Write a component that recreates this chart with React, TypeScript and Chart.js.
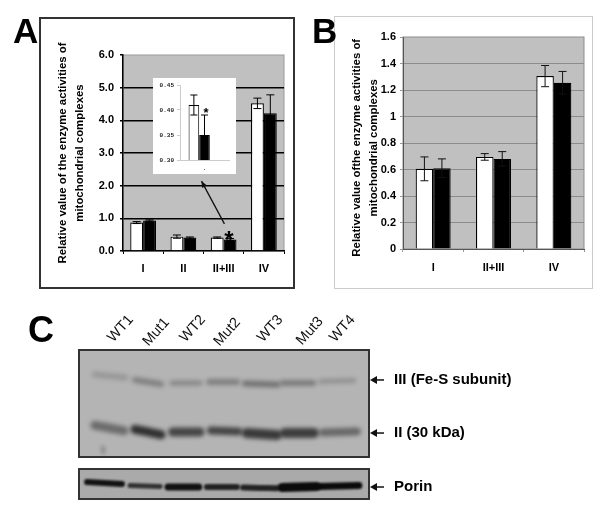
import React, { useEffect, useRef } from "react";
import { Chart, registerables } from "chart.js";

Chart.register(...registerables);
Chart.defaults.font.family = '"Liberation Sans", Arial, sans-serif';

const categoriesA = ["I", "II", "II+III", "IV"];
const wildTypeA = [0.87, 0.44, 0.41, 4.52];
const mutantA = [0.93, 0.41, 0.35, 4.22];
const wildTypeErrA = [0.03, 0.05, 0.02, 0.16];
const mutantErrA = [0.02, 0.02, 0.03, 0.56];
const ticksTitleA = ["Relative value of the enzyme activities of", "mitochondrial complexes"];

const categoriesInset = ["."];
const wildTypeInset = [0.41];
const mutantInset = [0.35];
const wildTypeErrInset = [0.02];
const mutantErrInset = [0.04];

const categoriesB = ["I", "II+III", "IV"];
const wildTypeB = [0.605, 0.695, 1.305];
const mutantB = [0.61, 0.68, 1.255];
const wildTypeErrB = [0.09, 0.025, 0.08];
const mutantErrB = [0.07, 0.055, 0.085];
const ticksTitleB = ["Relative value ofthe enzyme activities of", "mitochondrial complexes"];

const laneNames = ["WT1", "Mut1", "WT2", "Mut2", "WT3", "Mut3", "WT4"];
const laneLabelPos = [10.8, 22.9, 35.7, 47.4, 62.4, 75.9, 87.3];
const laneLabelLift = [10, 6, 10, 6, 10, 7, 10];
const bandLabels = ["III (Fe-S subunit)", "II (30 kDa)"];
const bandLabelPos = [28, 77.6];
const porinLabel = ["Porin"];
const porinLabelPos = [60];

const bandIIICenter = [10.7, 23.8, 36.9, 49.7, 62.8, 75.5, 89];
const bandIIIHalf = [5.2, 4.5, 4.8, 4.8, 5.5, 5.2, 5.7];
const bandIIIMigration = [24.3, 29.9, 30.8, 29.9, 31.8, 30.8, 29];
const bandIIITilt = [3, 4, 0, 0, 1, 0, -1];
const bandIIIAlpha = [0.17, 0.3, 0.27, 0.31, 0.39, 0.33, 0.2];
const bandIIIThick = [6, 6, 5, 6, 6, 6, 5];

const bandIICenter = [10.5, 23.8, 37, 50.2, 63, 76, 90];
const bandIIHalf = [5, 4.5, 4.7, 4.7, 5.2, 5, 5.8];
const bandIIMigration = [72.9, 76.6, 76.6, 75.7, 78.5, 77.6, 76.6];
const bandIITilt = [5, 5, 0, 1, 2, 0, -1];
const bandIIAlpha = [0.42, 0.78, 0.66, 0.66, 0.72, 0.7, 0.45];
const bandIIThick = [9, 9, 9, 8, 10, 10, 8];

const speckCenter = [8.3];
const speckHalf = [0.1];
const speckMigration = [93.5];
const speckTilt = [6];
const speckAlpha = [0.7];
const speckThick = [1.5];

const porinCenter = [8.8, 22.8, 36, 49.3, 62.4, 75.9, 89.8];
const porinHalf = [6, 5.2, 5.3, 5.2, 5.8, 5.9, 6.7];
const porinMigration = [46.7, 56.7, 60, 60, 63, 60, 56.7];
const porinTilt = [6, 3, 0, 0, 2, -3, -3];
const porinAlpha = [0.95, 0.75, 0.95, 0.85, 0.85, 1, 1];
const porinThick = [6, 5, 7, 6, 6, 9, 7];

const errorPlugin = (errs: number[][], cap: number, color = "#000") => ({
  id: "errors",
  afterDatasetsDraw(chart: any) {
    const { ctx } = chart;
    const y = chart.scales.y;
    errs.forEach((list, d) => {
      chart.getDatasetMeta(d).data.forEach((bar: any, i: number) => {
        const v = chart.data.datasets[d].data[i] as number;
        const hi = y.getPixelForValue(v + list[i]);
        const lo = y.getPixelForValue(v - list[i]);
        ctx.save();
        ctx.strokeStyle = color;
        ctx.lineWidth = 1;
        ctx.beginPath();
        ctx.moveTo(bar.x, hi); ctx.lineTo(bar.x, lo);
        ctx.moveTo(bar.x - cap / 2, hi); ctx.lineTo(bar.x + cap / 2, hi);
        ctx.moveTo(bar.x - cap / 2, lo); ctx.lineTo(bar.x + cap / 2, lo);
        ctx.stroke();
        ctx.restore();
      });
    });
  },
});

const framePlugin = (color: string, width: number, fill = "#ffffff", plot?: string, plotBorder?: string) => ({
  id: "frame",
  beforeDraw(chart: any) {
    const { ctx, width: w, height: h, chartArea: a } = chart;
    ctx.save();
    ctx.fillStyle = fill;
    ctx.fillRect(0, 0, w, h);
    if (color !== "none") {
      ctx.strokeStyle = color;
      ctx.lineWidth = width;
      ctx.strokeRect(width / 2 + 1, width / 2 + 1, w - width - 2, h - width - 2);
    }
    if (plot) {
      ctx.fillStyle = plot;
      ctx.fillRect(a.left, a.top, a.right - a.left, a.bottom - a.top);
      if (plotBorder) {
        ctx.strokeStyle = plotBorder;
        ctx.lineWidth = 1;
        ctx.strokeRect(a.left, a.top, a.right - a.left, a.bottom - a.top);
      }
    }
    ctx.restore();
  },
});

const starPlugin = (cat: number, value: number, size: number) => ({
  id: "star",
  afterDatasetsDraw(chart: any) {
    const { ctx, scales } = chart;
    ctx.save();
    ctx.font = `bold ${size}px "Liberation Sans"`;
    ctx.fillStyle = "#000";
    ctx.textAlign = "center";
    ctx.fillText("*", scales.x.getPixelForValue(cat), scales.y.getPixelForValue(value));
    ctx.restore();
  },
});

const arrowA = {
  id: "arrowA",
  afterDatasetsDraw(chart: any) {
    const { ctx, scales } = chart;
    const x0 = scales.x.getPixelForValue(2.02), y0 = scales.y.getPixelForValue(0.83);
    const x1 = scales.x.getPixelForValue(1.45), y1 = scales.y.getPixelForValue(2.14);
    const t = Math.atan2(y1 - y0, x1 - x0);
    ctx.save();
    ctx.strokeStyle = "#111";
    ctx.fillStyle = "#111";
    ctx.lineWidth = 1.3;
    ctx.beginPath(); ctx.moveTo(x0, y0); ctx.lineTo(x1, y1); ctx.stroke();
    ctx.beginPath();
    ctx.moveTo(x1, y1);
    ctx.lineTo(x1 - 7 * Math.cos(t - 0.4), y1 - 7 * Math.sin(t - 0.4));
    ctx.lineTo(x1 - 7 * Math.cos(t + 0.4), y1 - 7 * Math.sin(t + 0.4));
    ctx.closePath(); ctx.fill();
    ctx.restore();
  },
};

const barDatasets = (white: number[], black: number[], borderWidth: number, cp: number) => [
  { label: "WT", data: white, backgroundColor: "#fff", borderColor: "#000", borderWidth, barPercentage: 1, categoryPercentage: cp },
  { label: "Mut", data: black, backgroundColor: "#000", borderColor: "#000", borderWidth, barPercentage: 1, categoryPercentage: cp },
];

const bandDatasets = (center: number[], half: number[], mig: number[], tilt: number[], alpha: number[], thick: number[]) =>
  center.map((c, i) => ({
    data: [
      { x: c - half[i], y: mig[i] - tilt[i] / 2 },
      { x: c, y: mig[i] },
      { x: c + half[i], y: mig[i] + tilt[i] / 2 },
    ],
    showLine: true,
    tension: 0.4,
    pointRadius: 0,
    borderColor: `rgba(10,10,10,${alpha[i]})`,
    borderWidth: thick[i],
    borderCapStyle: "round",
  }));

const blurPlugin = (px: number) => ({
  id: "blur",
  beforeDatasetDraw(chart: any) { chart.ctx.save(); chart.ctx.filter = `blur(${px}px)`; },
  afterDatasetDraw(chart: any) { chart.ctx.restore(); },
});

const blotFrame = (cfg: any) => ({
  id: "blotFrame",
  beforeDraw(chart: any) {
    const { ctx, chartArea: a } = chart;
    ctx.save();
    ctx.fillStyle = cfg.fill;
    ctx.fillRect(a.left, a.top, a.right - a.left, a.bottom - a.top);
    ctx.restore();
  },
  afterDraw(chart: any) {
    const { ctx, chartArea: a, scales } = chart;
    ctx.save();
    ctx.strokeStyle = "#333";
    ctx.lineWidth = 2;
    ctx.strokeRect(a.left, a.top, a.right - a.left, a.bottom - a.top);
    ctx.fillStyle = "#111";
    ctx.strokeStyle = "#111";
    ctx.lineWidth = 1.5;
    cfg.yPos.forEach((value: number, i: number) => {
      const y = scales.y.getPixelForValue(value);
      ctx.beginPath();
      ctx.moveTo(a.right + 1, y);
      ctx.lineTo(a.right + 8, y - 4);
      ctx.lineTo(a.right + 8, y + 4);
      ctx.closePath();
      ctx.fill();
      ctx.beginPath();
      ctx.moveTo(a.right + 5, y);
      ctx.lineTo(a.right + 15, y);
      ctx.stroke();
      ctx.fillStyle = "#000";
      ctx.font = 'bold 15px "Liberation Sans"';
      ctx.textAlign = "left";
      ctx.textBaseline = "middle";
      ctx.fillText(cfg.yLabels[i], a.right + 25, y);
      ctx.fillStyle = "#111";
    });
    (cfg.xPos || []).forEach((value: number, i: number) => {
      ctx.save();
      ctx.translate(scales.x.getPixelForValue(value), a.top - cfg.xLift[i]);
      ctx.rotate(-(48 * Math.PI) / 180);
      ctx.font = '14.5px "Liberation Sans"';
      ctx.fillStyle = "#111";
      ctx.textAlign = "left";
      ctx.textBaseline = "middle";
      ctx.fillText(cfg.xLabels[i], 0, 0);
      ctx.restore();
    });
    ctx.restore();
  },
});

const fix = (size: number, key: "width" | "height") => (scale: any) => { scale[key] = size; };

const barChart = (canvas: HTMLCanvasElement, cfg: any) =>
  new Chart(canvas, {
    type: "bar",
    data: { labels: cfg.labels, datasets: cfg.datasets },
    plugins: cfg.plugins,
    options: {
      animation: false,
      responsive: false,
      devicePixelRatio: 1,
      layout: { autoPadding: false, padding: cfg.padding },
      plugins: { legend: { display: false }, tooltip: { enabled: false } },
      scales: {
        x: {
          afterFit: fix(cfg.xHeight, "height"),
          grid: { offset: true, drawOnChartArea: false, tickLength: 3, color: cfg.xTick },
          border: { color: cfg.axisColor, width: cfg.axisWidth },
          ticks: { color: cfg.tickColor, padding: cfg.xPad, font: { size: cfg.tickSize, weight: "bold", family: cfg.tickFamily } },
        },
        y: {
          afterFit: fix(cfg.yWidth, "width"),
          min: cfg.min,
          max: cfg.max,
          grid: {
            color: (c: any) => (c.tick && (c.tick.value === cfg.min || c.tick.value === cfg.max) ? "rgba(0,0,0,0)" : cfg.grid),
            lineWidth: cfg.gridWidth,
            tickColor: cfg.yTick,
            tickLength: 3,
          },
          border: { color: cfg.axisColor, width: cfg.axisWidth },
          title: cfg.title
            ? { display: true, text: cfg.title, color: "#000", padding: { top: cfg.titleTop, bottom: 0 }, font: { size: cfg.titleSize, weight: "bold", lineHeight: 1.45 } }
            : { display: false },
          ticks: {
            stepSize: cfg.step,
            color: cfg.tickColor,
            padding: cfg.yPad,
            font: { size: cfg.tickSize, weight: "bold", family: cfg.tickFamily },
            callback: cfg.format,
          },
        },
      },
    } as any,
  });

const blotChart = (canvas: HTMLCanvasElement, cfg: any) =>
  new Chart(canvas, {
    type: "scatter",
    data: { datasets: cfg.datasets },
    plugins: [blotFrame(cfg), blurPlugin(cfg.blur)],
    options: {
      animation: false,
      responsive: false,
      devicePixelRatio: 1,
      layout: { autoPadding: false, padding: cfg.padding },
      plugins: { legend: { display: false }, tooltip: { enabled: false } },
      scales: {
        x: { type: "linear", display: false, min: 0, max: 100 },
        y: { display: false, min: 0, max: 100, reverse: true },
      },
    } as any,
  });

const letter = (text: string, left: number, top: number, size: number) => (
  <div style={{ position: "absolute", left, top, fontFamily: '"Liberation Sans"', fontWeight: 700, fontSize: size, lineHeight: 1, color: "#000" }}>{text}</div>
);

const place = (left: number, top: number, width: number, height: number) => ({
  style: { position: "absolute" as const, left, top, width, height },
  width,
  height,
});

export default function App() {
  const aRef = useRef<HTMLCanvasElement>(null);
  const insetRef = useRef<HTMLCanvasElement>(null);
  const bRef = useRef<HTMLCanvasElement>(null);
  const c1Ref = useRef<HTMLCanvasElement>(null);
  const c2Ref = useRef<HTMLCanvasElement>(null);

  useEffect(() => {
    const charts = [
      barChart(aRef.current!, {
        labels: categoriesA,
        datasets: barDatasets(wildTypeA, mutantA, 1.2, 0.64),
        plugins: [framePlugin("#333", 2, "#fff", "#c0c0c0", "#999"), errorPlugin([wildTypeErrA, mutantErrA], 8), starPlugin(2.13, 0.09, 24), arrowA],
        padding: { top: 39, right: 12, left: 0, bottom: 0 },
        xHeight: 39, yWidth: 85, xPad: 8, yPad: 6,
        axisColor: "#000", axisWidth: 1.5, xTick: "#000", yTick: "#000",
        tickColor: "#000", tickSize: 11,
        min: 0, max: 6, step: 1, grid: "#000", gridWidth: 1.5,
        format: (v: number) => v.toFixed(1),
        title: ticksTitleA, titleTop: 17, titleSize: 11.4,
      }),
      barChart(insetRef.current!, {
        labels: categoriesInset,
        datasets: [...barDatasets(wildTypeInset, mutantInset, 1, 0.65), { label: "", data: [null], barPercentage: 1, categoryPercentage: 0.65 }],
        plugins: [framePlugin("none", 0), errorPlugin([wildTypeErrInset, mutantErrInset], 7), starPlugin(0.03, 0.386, 13)],
        padding: { top: 7, right: 7, left: 0, bottom: 0 },
        xHeight: 14, yWidth: 27, xPad: 2, yPad: 3,
        axisColor: "#ccc", axisWidth: 1, xTick: "rgba(0,0,0,0)", yTick: "#ccc",
        tickColor: "#222", tickSize: 6, tickFamily: '"Liberation Mono"',
        min: 0.3, max: 0.45, step: 0.05, grid: "rgba(0,0,0,0)", gridWidth: 1,
        format: (v: number) => v.toFixed(2),
      }),
      barChart(bRef.current!, {
        labels: categoriesB,
        datasets: barDatasets(wildTypeB, mutantB, 1.2, 0.58),
        plugins: [framePlugin("#ccc", 1, "#fff", "#c0c0c0", "#8c8c8c"), errorPlugin([wildTypeErrB, mutantErrB], 8, "#111")],
        padding: { top: 22, right: 10, left: 0, bottom: 0 },
        xHeight: 41, yWidth: 70, xPad: 9, yPad: 4,
        axisColor: "#555", axisWidth: 1, xTick: "#999", yTick: "#999",
        tickColor: "#000", tickSize: 11,
        min: 0, max: 1.6, step: 0.2, grid: "#8c8c8c", gridWidth: 1,
        format: (v: number) => String(+v.toFixed(1)),
        title: ticksTitleB.map((s) => s + "   "), titleTop: 16, titleSize: 11.4,
      }),
      blotChart(c1Ref.current!, {
        datasets: [
          ...bandDatasets(bandIIICenter, bandIIIHalf, bandIIIMigration, bandIIITilt, bandIIIAlpha, bandIIIThick),
          ...bandDatasets(bandIICenter, bandIIHalf, bandIIMigration, bandIITilt, bandIIAlpha, bandIIThick),
          ...bandDatasets(speckCenter, speckHalf, speckMigration, speckTilt, speckAlpha, speckThick),
        ],
        fill: "#b4b4b4", blur: 2,
        padding: { left: 79, top: 45, right: 231, bottom: 3 },
        xPos: laneLabelPos, xLabels: laneNames, xLift: laneLabelLift,
        yPos: bandLabelPos, yLabels: bandLabels,
      }),
      blotChart(c2Ref.current!, {
        datasets: bandDatasets(porinCenter, porinHalf, porinMigration, porinTilt, porinAlpha, porinThick),
        fill: "#aaaaaa", blur: 1.2,
        padding: { left: 79, top: 4, right: 231, bottom: 4 },
        yPos: porinLabelPos, yLabels: porinLabel,
      }),
    ];
    return () => charts.forEach((c) => c.destroy());
  }, []);

  return (
    <div style={{ position: "absolute", left: 0, top: 0, width: 600, height: 511, background: "#fff", overflow: "hidden" }}>
      <canvas ref={aRef} {...place(38, 16, 258, 274)} />
      <canvas ref={insetRef} {...place(153, 78, 83, 96)} />
      <canvas ref={bRef} {...place(333, 15, 261, 275)} />
      <canvas ref={c1Ref} {...place(0, 305, 600, 155)} />
      <canvas ref={c2Ref} {...place(0, 465, 600, 38)} />
      {letter("A", 13, 13, 35)}
      {letter("B", 312, 13, 35)}
      {letter("C", 28, 312, 36)}
    </div>
  );
}
